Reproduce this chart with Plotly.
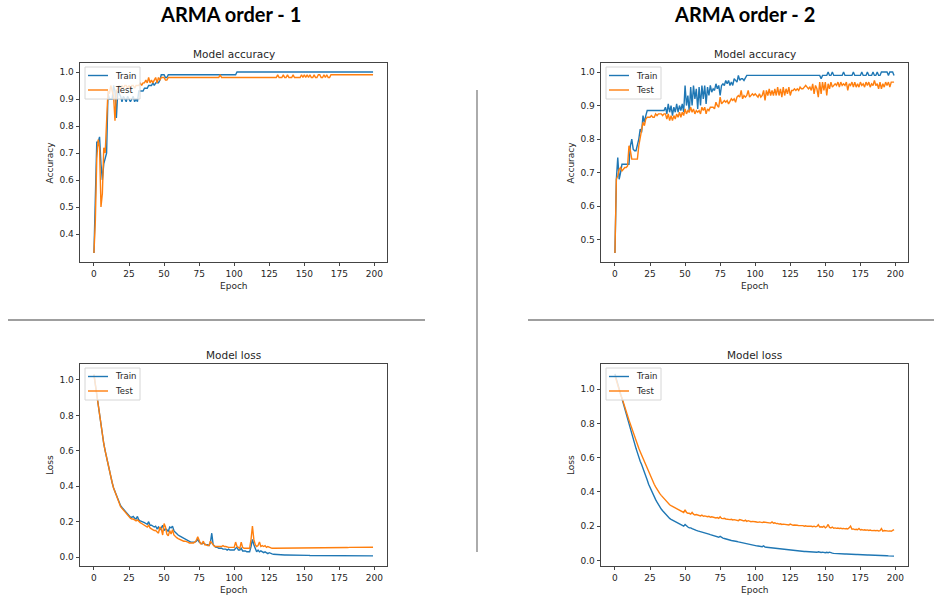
import plotly.graph_objects as go

epochs = list(range(200))

acc1_train = [
    0.33,0.55,0.74,0.74,0.76,0.66,0.60,0.66,0.68,0.70,
    0.92,0.90,0.90,0.90,0.95,0.93,0.83,0.93,0.92,0.91,
    0.89,0.91,0.90,0.89,0.91,0.90,0.89,0.90,0.91,0.89,
    0.90,0.89,0.93,0.93,0.93,0.93,0.94,0.94,0.94,0.95,
    0.95,0.95,0.96,0.95,0.96,0.96,0.96,0.97,0.99,0.99,
    0.99,0.98,0.98,0.99,0.99,0.99,0.99,0.99,0.99,0.99,
    0.99,0.99,0.99,0.99,0.99,0.99,0.99,0.99,0.99,0.99,
    0.99,0.99,0.99,0.99,0.99,0.99,0.99,0.99,0.99,0.99,
    0.99,0.99,0.99,0.99,0.99,0.99,0.99,0.99,0.99,0.99,
    0.99,0.99,0.99,0.99,0.99,0.99,0.99,0.99,0.99,0.99,
    0.99,0.99,1.00,1.00,1.00,1.00,1.00,1.00,1.00,1.00,
    1.00,1.00,1.00,1.00,1.00,1.00,1.00,1.00,1.00,1.00,
    1.00,1.00,1.00,1.00,1.00,1.00,1.00,1.00,1.00,1.00,
    1.00,1.00,1.00,1.00,1.00,1.00,1.00,1.00,1.00,1.00,
    1.00,1.00,1.00,1.00,1.00,1.00,1.00,1.00,1.00,1.00,
    1.00,1.00,1.00,1.00,1.00,1.00,1.00,1.00,1.00,1.00,
    1.00,1.00,1.00,1.00,1.00,1.00,1.00,1.00,1.00,1.00,
    1.00,1.00,1.00,1.00,1.00,1.00,1.00,1.00,1.00,1.00,
    1.00,1.00,1.00,1.00,1.00,1.00,1.00,1.00,1.00,1.00,
    1.00,1.00,1.00,1.00,1.00,1.00,1.00,1.00,1.00,1.00,
]

acc1_test = [
    0.33,0.45,0.68,0.75,0.72,0.50,0.55,0.72,0.70,0.85,
    0.93,0.92,0.95,0.93,0.91,0.82,0.93,0.94,0.95,0.94,
    0.95,0.94,0.95,0.95,0.94,0.95,0.94,0.95,0.95,0.94,
    0.95,0.95,0.95,0.96,0.95,0.96,0.96,0.97,0.96,0.98,
    0.96,0.97,0.96,0.97,0.98,0.96,0.98,0.97,0.98,0.98,
    0.98,0.97,0.97,0.98,0.98,0.98,0.98,0.98,0.98,0.98,
    0.98,0.98,0.98,0.98,0.98,0.98,0.98,0.98,0.98,0.98,
    0.98,0.98,0.98,0.98,0.98,0.98,0.98,0.98,0.98,0.98,
    0.98,0.98,0.98,0.98,0.98,0.98,0.98,0.98,0.98,0.98,
    0.99,0.98,0.98,0.98,0.98,0.98,0.98,0.98,0.98,0.98,
    0.98,0.98,0.98,0.98,0.98,0.98,0.98,0.98,0.98,0.98,
    0.98,0.98,0.98,0.98,0.98,0.98,0.98,0.98,0.98,0.98,
    0.98,0.98,0.98,0.98,0.98,0.98,0.98,0.98,0.98,0.98,
    0.98,0.99,0.98,0.98,0.98,0.99,0.98,0.98,0.99,0.98,
    0.98,0.98,0.99,0.98,0.98,0.98,0.98,0.98,0.99,0.98,
    0.99,0.98,0.99,0.98,0.99,0.98,0.98,0.99,0.98,0.98,
    0.99,0.99,0.98,0.98,0.99,0.98,0.99,0.98,0.98,0.99,
    0.99,0.99,0.99,0.99,0.99,0.99,0.99,0.99,0.99,0.99,
    0.99,0.99,0.99,0.99,0.99,0.99,0.99,0.99,0.99,0.99,
    0.99,0.99,0.99,0.99,0.99,0.99,0.99,0.99,0.99,0.99,
]

acc2_train = [
    0.46,0.68,0.745,0.68,0.70,0.725,0.725,0.725,0.725,0.725,
    0.725,0.78,0.80,0.77,0.765,0.765,0.78,0.80,0.83,0.82,
    0.87,0.85,0.87,0.885,0.885,0.885,0.885,0.885,0.885,0.885,
    0.885,0.885,0.885,0.885,0.885,0.885,0.895,0.875,0.905,0.88,
    0.90,0.87,0.895,0.88,0.905,0.88,0.90,0.885,0.905,0.88,
    0.96,0.90,0.93,0.88,0.955,0.90,0.96,0.92,0.95,0.89,
    0.955,0.90,0.96,0.92,0.96,0.905,0.955,0.93,0.96,0.94,
    0.95,0.945,0.965,0.95,0.96,0.93,0.96,0.965,0.96,0.975,
    0.965,0.975,0.96,0.97,0.96,0.98,0.975,0.97,0.99,0.975,
    0.98,0.98,0.975,0.985,0.99,0.99,0.99,0.99,0.99,0.99,
    0.99,0.99,0.99,0.99,0.99,0.99,0.99,0.99,0.99,0.99,
    0.99,0.99,0.99,0.99,0.99,0.99,0.99,0.99,0.99,0.99,
    0.99,0.99,0.99,0.99,0.99,0.99,0.99,0.99,0.99,0.99,
    0.99,0.99,0.99,0.99,0.99,0.99,0.99,0.99,0.99,0.99,
    0.99,0.99,0.99,0.99,0.99,0.99,0.99,0.98,0.99,0.99,
    0.99,0.99,1.00,0.99,0.99,1.00,0.99,0.99,0.99,0.99,
    0.99,0.99,0.99,1.00,0.99,0.99,0.99,0.99,0.99,0.99,
    1.00,0.99,0.99,0.99,0.99,0.99,1.00,0.99,0.99,0.99,
    1.00,0.99,0.99,0.99,1.00,0.99,0.99,1.00,0.99,0.99,
    1.00,1.00,1.00,1.00,1.00,0.99,1.00,1.00,1.00,0.99,
]

acc2_test = [
    0.46,0.68,0.69,0.71,0.715,0.705,0.71,0.715,0.715,0.72,
    0.78,0.765,0.74,0.74,0.74,0.74,0.74,0.78,0.80,0.82,
    0.85,0.84,0.86,0.865,0.865,0.865,0.87,0.865,0.865,0.875,
    0.87,0.875,0.875,0.875,0.87,0.875,0.875,0.86,0.875,0.855,
    0.87,0.855,0.87,0.86,0.875,0.865,0.88,0.865,0.88,0.87,
    0.89,0.875,0.885,0.88,0.895,0.88,0.89,0.875,0.885,0.88,
    0.885,0.875,0.895,0.885,0.895,0.875,0.89,0.885,0.895,0.895,
    0.895,0.89,0.91,0.90,0.895,0.925,0.905,0.91,0.915,0.91,
    0.915,0.905,0.915,0.92,0.915,0.92,0.91,0.925,0.93,0.925,
    0.945,0.92,0.93,0.925,0.93,0.945,0.925,0.93,0.935,0.93,
    0.935,0.93,0.925,0.935,0.925,0.93,0.945,0.915,0.945,0.93,
    0.95,0.93,0.945,0.93,0.95,0.93,0.955,0.93,0.95,0.925,
    0.955,0.93,0.95,0.935,0.955,0.93,0.945,0.945,0.95,0.945,
    0.95,0.945,0.955,0.95,0.95,0.955,0.96,0.955,0.95,0.955,
    0.945,0.965,0.935,0.96,0.95,0.925,0.97,0.935,0.97,0.945,
    0.97,0.93,0.965,0.95,0.97,0.955,0.96,0.965,0.96,0.97,
    0.955,0.97,0.96,0.965,0.96,0.97,0.945,0.965,0.96,0.97,
    0.955,0.97,0.955,0.965,0.955,0.97,0.96,0.965,0.955,0.97,
    0.96,0.97,0.955,0.965,0.96,0.975,0.96,0.965,0.95,0.97,
    0.95,0.965,0.955,0.97,0.96,0.97,0.955,0.97,0.97,0.97,
]

loss1_train = [
    1.03,0.97,0.91,0.85,0.80,0.74,0.69,0.64,0.60,0.56,
    0.52,0.48,0.45,0.42,0.39,0.37,0.345,0.325,0.305,0.29,
    0.28,0.27,0.26,0.25,0.24,0.235,0.225,0.225,0.23,0.22,
    0.215,0.23,0.21,0.205,0.20,0.195,0.195,0.19,0.185,0.20,
    0.18,0.18,0.175,0.17,0.175,0.16,0.17,0.155,0.165,0.18,
    0.15,0.16,0.155,0.145,0.17,0.165,0.175,0.15,0.14,0.13,
    0.125,0.12,0.115,0.11,0.105,0.10,0.095,0.09,0.09,0.085,
    0.085,0.085,0.085,0.09,0.10,0.085,0.08,0.075,0.08,0.075,
    0.07,0.07,0.065,0.08,0.135,0.07,0.06,0.055,0.055,0.05,
    0.05,0.05,0.045,0.045,0.045,0.04,0.045,0.04,0.04,0.04,
    0.04,0.05,0.055,0.04,0.04,0.05,0.035,0.035,0.035,0.03,
    0.03,0.03,0.06,0.10,0.07,0.045,0.03,0.04,0.03,0.035,
    0.03,0.025,0.03,0.025,0.02,0.025,0.02,0.018,0.016,0.015,
    0.015,0.014,0.014,0.013,0.013,0.013,0.012,0.012,0.012,0.012,
    0.012,0.011,0.014,0.011,0.011,0.011,0.010,0.010,0.010,0.010,
    0.010,0.010,0.010,0.010,0.009,0.009,0.009,0.009,0.009,0.009,
    0.009,0.009,0.009,0.009,0.009,0.008,0.008,0.008,0.008,0.008,
    0.008,0.008,0.009,0.008,0.008,0.008,0.008,0.008,0.008,0.008,
    0.008,0.007,0.007,0.007,0.007,0.007,0.007,0.007,0.007,0.007,
    0.007,0.007,0.007,0.007,0.007,0.007,0.007,0.007,0.007,0.007,
]

loss1_test = [
    1.03,0.97,0.91,0.85,0.80,0.74,0.69,0.64,0.60,0.56,
    0.52,0.48,0.45,0.42,0.39,0.37,0.345,0.32,0.30,0.285,
    0.275,0.265,0.255,0.245,0.235,0.23,0.22,0.215,0.215,0.21,
    0.205,0.21,0.20,0.195,0.19,0.185,0.18,0.175,0.17,0.18,
    0.165,0.16,0.155,0.15,0.15,0.14,0.135,0.17,0.16,0.125,
    0.19,0.17,0.13,0.12,0.15,0.13,0.155,0.125,0.115,0.11,
    0.105,0.10,0.10,0.095,0.09,0.09,0.085,0.085,0.08,0.08,
    0.08,0.08,0.085,0.095,0.115,0.09,0.075,0.075,0.09,0.07,
    0.07,0.065,0.065,0.09,0.08,0.065,0.06,0.06,0.06,0.06,
    0.06,0.06,0.065,0.06,0.06,0.055,0.055,0.055,0.055,0.055,
    0.055,0.085,0.06,0.055,0.05,0.085,0.055,0.05,0.05,0.05,
    0.05,0.05,0.10,0.175,0.10,0.07,0.06,0.065,0.085,0.06,
    0.065,0.06,0.065,0.055,0.06,0.055,0.05,0.05,0.05,0.05,
    0.05,0.05,0.05,0.05,0.05,0.05,0.05,0.05,0.05,0.05,
    0.05,0.05,0.05,0.051,0.05,0.05,0.05,0.051,0.051,0.051,
    0.051,0.051,0.051,0.051,0.051,0.052,0.052,0.052,0.052,0.052,
    0.052,0.052,0.052,0.052,0.053,0.053,0.053,0.053,0.053,0.053,
    0.053,0.053,0.053,0.054,0.054,0.054,0.054,0.054,0.054,0.054,
    0.054,0.054,0.055,0.055,0.055,0.055,0.055,0.055,0.055,0.055,
    0.055,0.055,0.056,0.056,0.056,0.056,0.056,0.056,0.056,0.056,
]

loss2_train = [
    1.09,1.06,1.03,1.00,0.98,0.95,0.92,0.89,0.86,0.83,
    0.80,0.77,0.74,0.71,0.68,0.655,0.63,0.60,0.58,0.56,
    0.54,0.515,0.49,0.47,0.445,0.425,0.405,0.385,0.37,0.355,
    0.34,0.325,0.315,0.30,0.29,0.28,0.27,0.26,0.255,0.245,
    0.24,0.235,0.23,0.225,0.22,0.215,0.21,0.21,0.205,0.20,
    0.21,0.20,0.195,0.19,0.19,0.185,0.18,0.178,0.175,0.172,
    0.17,0.168,0.165,0.165,0.16,0.158,0.155,0.153,0.15,0.148,
    0.145,0.143,0.14,0.138,0.135,0.14,0.132,0.13,0.128,0.125,
    0.122,0.12,0.118,0.116,0.115,0.112,0.11,0.11,0.108,0.106,
    0.105,0.103,0.10,0.098,0.097,0.095,0.093,0.092,0.09,0.088,
    0.087,0.085,0.084,0.083,0.082,0.08,0.085,0.078,0.077,0.076,
    0.075,0.074,0.072,0.07,0.069,0.068,0.067,0.066,0.065,0.064,
    0.063,0.062,0.062,0.061,0.06,0.059,0.058,0.058,0.057,0.056,
    0.056,0.055,0.054,0.054,0.053,0.052,0.052,0.051,0.05,0.05,
    0.049,0.049,0.048,0.048,0.047,0.05,0.047,0.046,0.048,0.046,
    0.045,0.047,0.045,0.048,0.044,0.042,0.041,0.04,0.04,0.039,
    0.039,0.038,0.038,0.037,0.037,0.037,0.036,0.038,0.036,0.035,
    0.035,0.035,0.034,0.034,0.033,0.033,0.033,0.032,0.032,0.032,
    0.031,0.031,0.031,0.03,0.03,0.03,0.029,0.029,0.029,0.028,
    0.028,0.028,0.027,0.027,0.027,0.026,0.026,0.026,0.025,0.025,
]

loss2_test = [
    1.08,1.05,1.02,0.99,0.97,0.95,0.92,0.90,0.87,0.845,
    0.82,0.795,0.77,0.745,0.72,0.70,0.68,0.655,0.635,0.615,
    0.595,0.575,0.555,0.535,0.515,0.495,0.475,0.46,0.445,0.43,
    0.415,0.405,0.39,0.38,0.37,0.36,0.35,0.34,0.335,0.325,
    0.32,0.315,0.31,0.305,0.30,0.295,0.29,0.29,0.285,0.28,
    0.295,0.28,0.275,0.275,0.27,0.28,0.27,0.265,0.268,0.265,
    0.262,0.26,0.265,0.258,0.26,0.256,0.255,0.258,0.252,0.255,
    0.252,0.25,0.248,0.25,0.246,0.255,0.245,0.244,0.246,0.242,
    0.24,0.242,0.238,0.24,0.236,0.238,0.235,0.236,0.232,0.238,
    0.234,0.232,0.23,0.235,0.228,0.232,0.228,0.226,0.228,0.225,
    0.226,0.224,0.222,0.225,0.222,0.221,0.224,0.222,0.22,0.222,
    0.22,0.218,0.225,0.217,0.22,0.215,0.216,0.212,0.214,0.21,
    0.212,0.21,0.208,0.21,0.207,0.212,0.206,0.205,0.207,0.204,
    0.205,0.203,0.204,0.202,0.203,0.20,0.202,0.199,0.20,0.198,
    0.199,0.197,0.20,0.196,0.198,0.208,0.195,0.196,0.194,0.20,
    0.19,0.196,0.21,0.193,0.19,0.195,0.188,0.19,0.187,0.189,
    0.186,0.188,0.185,0.187,0.184,0.186,0.183,0.19,0.20,0.182,
    0.184,0.18,0.182,0.179,0.186,0.178,0.18,0.177,0.179,0.176,
    0.178,0.175,0.177,0.174,0.176,0.175,0.173,0.175,0.172,0.174,
    0.186,0.171,0.174,0.172,0.173,0.171,0.172,0.17,0.175,0.18,
]

series_names = ["Train", "Test"]
x_ticks = [0, 25, 50, 75, 100, 125, 150, 175, 200]
acc1_ticks = [0.4, 0.5, 0.6, 0.7, 0.8, 0.9, 1.0]
acc2_ticks = [0.5, 0.6, 0.7, 0.8, 0.9, 1.0]
loss_ticks = [0.0, 0.2, 0.4, 0.6, 0.8, 1.0]

W, H = 934, 600
BLUE = "#1f77b4"
ORANGE = "#ff7f0e"
FONT = "DejaVu Sans"
TXT = "#262626"


def px_x(p):
    return p / W


def px_y(p):
    return 1 - p / H


panels = [
    ("", (80, 387), (63, 262), [0.2965, 1.0335], acc1_ticks, acc1_train, acc1_test, "Model accuracy", "Accuracy"),
    ("2", (601, 908), (63, 262), [0.433, 1.027], acc2_ticks, acc2_train, acc2_test, "Model accuracy", "Accuracy"),
    ("3", (80, 387), (364, 566), [-0.05, 1.09], loss_ticks, loss1_train, loss1_test, "Model loss", "Loss"),
    ("4", (601, 908), (364, 566), [-0.033, 1.148], loss_ticks, loss2_train, loss2_test, "Model loss", "Loss"),
]

fig = go.Figure()
annotations = []
shapes = []
layout = dict(
    width=W, height=H,
    margin=dict(l=0, r=0, t=0, b=0),
    paper_bgcolor="white", plot_bgcolor="white",
    font=dict(family=FONT, size=9, color=TXT),
    showlegend=False,
)

for suf, (xl, xr), (yt, yb), yr, yt_vals, tr, te, title, ylab in panels:
    fig.add_trace(go.Scatter(x=epochs, y=tr, mode="lines", name=series_names[0],
                             line=dict(color=BLUE, width=1.4),
                             xaxis="x" + suf, yaxis="y" + suf))
    fig.add_trace(go.Scatter(x=epochs, y=te, mode="lines", name=series_names[1],
                             line=dict(color=ORANGE, width=1.4),
                             xaxis="x" + suf, yaxis="y" + suf))
    axis_common = dict(showgrid=False, zeroline=False, showline=True, mirror=True,
                       linecolor="#444", linewidth=0.9, ticks="outside", ticklen=3.5,
                       tickwidth=0.8, tickcolor="#444",
                       tickfont=dict(family=FONT, size=9, color=TXT))
    layout["xaxis" + suf] = dict(domain=[px_x(xl), px_x(xr)], range=[-9.95, 208.95],
                                 anchor="y" + suf, tickvals=x_ticks,
                                 ticktext=[str(v) for v in x_ticks], **axis_common)
    layout["yaxis" + suf] = dict(domain=[px_y(yb), px_y(yt)], range=yr,
                                 anchor="x" + suf, tickvals=yt_vals,
                                 ticktext=[f"{v:.1f}" for v in yt_vals], **axis_common)

    # legend box (matplotlib-style, upper left, semi-transparent)
    shapes.append(dict(type="rect", xref="paper", yref="paper", layer="above",
                       x0=px_x(xl + 5), x1=px_x(xl + 60), y0=px_y(yt + 36), y1=px_y(yt + 4),
                       fillcolor="rgba(255,255,255,0.8)", line=dict(color="#d6d6d6", width=1)))
    for i, (nm, col) in enumerate(zip(series_names, [BLUE, ORANGE])):
        ly = yt + 12.5 + i * 14.5
        shapes.append(dict(type="line", xref="paper", yref="paper", layer="above",
                           x0=px_x(xl + 8), x1=px_x(xl + 28), y0=px_y(ly), y1=px_y(ly),
                           line=dict(color=col, width=1.4)))
        annotations.append(dict(text=nm, x=px_x(xl + 33), y=px_y(ly), xref="paper", yref="paper",
                                showarrow=False, xanchor="left", yanchor="middle",
                                font=dict(family=FONT, size=8.5, color=TXT)))

    cx = (xl + xr) / 2
    annotations.append(dict(text=title, x=px_x(cx), y=px_y(yt - 9), xref="paper", yref="paper",
                            showarrow=False, xanchor="center", yanchor="middle",
                            font=dict(family=FONT, size=10.5, color=TXT)))
    annotations.append(dict(text="Epoch", x=px_x(cx), y=px_y(yb + 24), xref="paper", yref="paper",
                            showarrow=False, xanchor="center", yanchor="middle",
                            font=dict(family=FONT, size=9, color=TXT)))
    annotations.append(dict(text=ylab, x=px_x(xl - 30), y=px_y((yt + yb) / 2), xref="paper", yref="paper",
                            showarrow=False, xanchor="center", yanchor="middle", textangle=-90,
                            font=dict(family=FONT, size=9, color=TXT)))

annotations.append(dict(text="<b>ARMA order - 1</b>", x=px_x(230), y=px_y(14), xref="paper", yref="paper",
                        showarrow=False, xanchor="center", yanchor="middle",
                        font=dict(family="Lato", size=20, color="#000")))
annotations.append(dict(text="<b>ARMA order - 2</b>", x=px_x(744), y=px_y(14), xref="paper", yref="paper",
                        showarrow=False, xanchor="center", yanchor="middle",
                        font=dict(family="Lato", size=20, color="#000")))

shapes += [
    dict(type="line", xref="paper", yref="paper", x0=px_x(8), x1=px_x(425), y0=px_y(320), y1=px_y(320),
         line=dict(color="#7f7f7f", width=1.3)),
    dict(type="line", xref="paper", yref="paper", x0=px_x(528), x1=px_x(934), y0=px_y(320), y1=px_y(320),
         line=dict(color="#7f7f7f", width=1.3)),
    dict(type="line", xref="paper", yref="paper", x0=px_x(477), x1=px_x(477), y0=px_y(90), y1=px_y(552),
         line=dict(color="#7f7f7f", width=1.3)),
]

layout["annotations"] = annotations
layout["shapes"] = shapes

fig.update_layout(**layout)
fig.write_html("out.html")
